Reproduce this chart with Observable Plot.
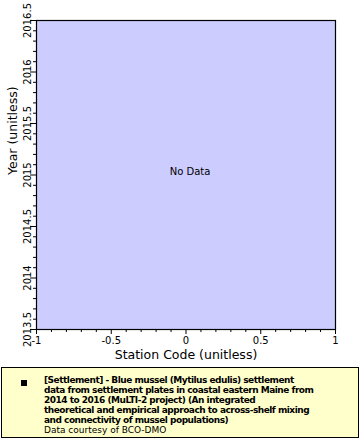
<!DOCTYPE html>
<html>
<head>
<meta charset="utf-8">
<script src="https://cdn.jsdelivr.net/npm/d3@7"></script>
<script src="https://cdn.jsdelivr.net/npm/@observablehq/plot@0.6"></script>
<style>
  html, body { margin: 0; padding: 0; background: #fff; }
  #wrap { position: relative; width: 360px; height: 440px; font-family: "DejaVu Sans", sans-serif; }
  #legend { position: absolute; left: 1px; top: 367px; width: 356px; height: 69px; background: #ffffcc; border: 1px solid #000; }
  #legend .mark { position: absolute; left: 19px; top: 12px; width: 6px; height: 6px; background: #000; }
  #legend .txt { position: absolute; left: 42px; top: 7px; font-size: 9px; line-height: 10px; color: #000; white-space: nowrap; }
  #legend .txt b { font-weight: bold; letter-spacing: -0.5px; }
  #legend .txt span { letter-spacing: 0; }
</style>
</head>
<body>
<div id="wrap">
  <div id="chart"></div>
  <div id="legend">
    <div class="mark"></div>
    <div class="txt" id="legtext"></div>
  </div>
</div>
<script>
const stations = [];
const years = [];
const xDomain = [-1, 1];
const yDomain = [2013.5, 2016.5];
const xTicks = [-1, -0.5, 0, 0.5, 1];
const xMinorTicks = [-0.9, -0.8, -0.7, -0.6, -0.4, -0.3, -0.2, -0.1, 0.1, 0.2, 0.3, 0.4, 0.6, 0.7, 0.8, 0.9];
const yTicks = [2013.5, 2014, 2014.5, 2015, 2015.5, 2016, 2016.5];
const yMinorTicks = [2013.6, 2013.7, 2013.8, 2013.9, 2014.1, 2014.2, 2014.3, 2014.4, 2014.6, 2014.7, 2014.8, 2014.9,
  2015.1, 2015.2, 2015.3, 2015.4, 2015.6, 2015.7, 2015.8, 2015.9, 2016.1, 2016.2, 2016.3, 2016.4];
const xLabel = "Station Code (unitless)";
const yLabel = "Year (unitless)";
const noDataText = ["No Data"];
const legendLines = [
  "[Settlement] - Blue mussel (Mytilus edulis) settlement",
  "data from settlement plates in coastal eastern Maine from",
  "2014 to 2016 (MuLTI-2 project) (An integrated",
  "theoretical and empirical approach to across-shelf mixing",
  "and connectivity of mussel populations)"
];
const credit = "Data courtesy of BCO-DMO";

const fmt = d => String(d);

const chart = Plot.plot({
  width: 360,
  height: 366,
  marginLeft: 36,
  marginRight: 25,
  marginTop: 20,
  marginBottom: 37,
  style: { fontFamily: "DejaVu Sans, sans-serif", fontSize: "10px", color: "#000", background: "transparent" },
  x: { domain: xDomain, label: null },
  y: { domain: yDomain, label: null },
  marks: [
    Plot.frame({ fill: "#ccccff" }),
    Plot.dot(stations.map((s, i) => ({ x: s, y: years[i] })), { x: "x", y: "y" }),
    Plot.text(noDataText, { frameAnchor: "middle", text: d => d, dx: 4, dy: -3, fontSize: 10, fill: "#000" }),
    Plot.axisX(xMinorTicks, { tickSize: 3, text: null, label: null, stroke: "#000" }),
    Plot.axisX(xTicks, { tickSize: 5, tickPadding: 2, tickFormat: fmt, label: null, fill: "#000", stroke: "#000" }),
    Plot.axisY(yMinorTicks, { tickSize: 3, text: null, label: null, stroke: "#000" }),
    Plot.axisY(yTicks, { tickSize: 6, tickPadding: 0, tickRotate: -90, tickFormat: fmt, label: null, fill: "#000", stroke: "#000" }),
    Plot.text([xLabel], { frameAnchor: "bottom", text: d => d, dy: 29, fontSize: 12.5, fill: "#000" }),
    Plot.text([yLabel], { frameAnchor: "left", text: d => d, dx: -24, rotate: -90, fontSize: 12.5, fill: "#000" }),
    Plot.frame({ stroke: "#000", strokeWidth: 1.2 })
  ]
});
document.getElementById("chart").appendChild(chart);

const esc = s => s.replace(/&/g, "&amp;").replace(/</g, "&lt;");
const lt = document.getElementById("legtext");
lt.innerHTML = legendLines.map(l => "<b>" + esc(l) + "</b>").join("<br>") + "<br><span>" + esc(credit) + "</span>";
</script>
</body>
</html>
